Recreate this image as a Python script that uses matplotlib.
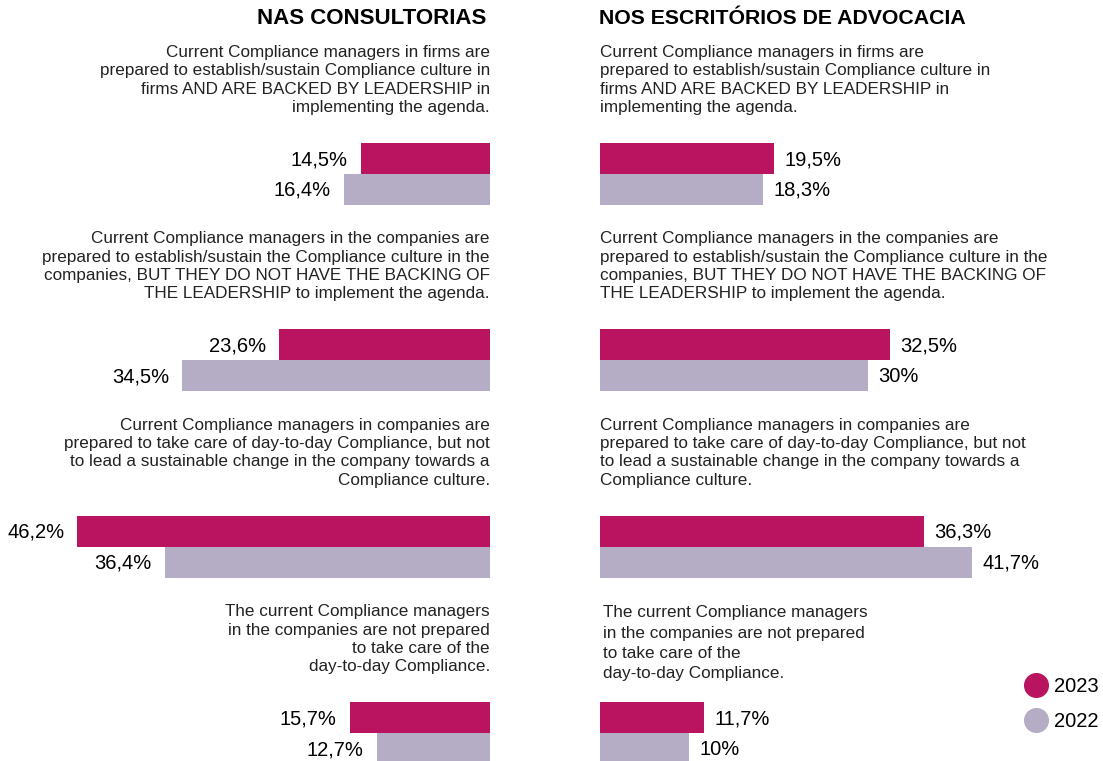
import numpy as np
import matplotlib.pyplot as plt
from matplotlib.lines import Line2D

plt.rcParams['font.family'] = ['Liberation Sans', 'DejaVu Sans']

# data
statements = [
    "Current Compliance managers in firms are\nprepared to establish/sustain Compliance culture in\nfirms AND ARE BACKED BY LEADERSHIP in\nimplementing the agenda.",
    "Current Compliance managers in the companies are\nprepared to establish/sustain the Compliance culture in the\ncompanies, BUT THEY DO NOT HAVE THE BACKING OF\nTHE LEADERSHIP to implement the agenda.",
    "Current Compliance managers in companies are\nprepared to take care of day-to-day Compliance, but not\nto lead a sustainable change in the company towards a\nCompliance culture.",
    "The current Compliance managers\nin the companies are not prepared\nto take care of the\nday-to-day Compliance.",
]
panel_titles = ["NAS CONSULTORIAS", "NOS ESCRITÓRIOS DE ADVOCACIA"]
years = ["2023", "2022"]
consultorias_2023 = [14.5, 23.6, 46.2, 15.7]
consultorias_2022 = [16.4, 34.5, 36.4, 12.7]
advocacia_2023 = [19.5, 32.5, 36.3, 11.7]
advocacia_2022 = [18.3, 30.0, 41.7, 10.0]

MAGENTA = "#BA1461"
LILAC = "#B4ADC5"
TXT = "#222222"

W, H = 1103, 761
px = 8.93          # pixels per percentage point
bar_h = 31
top0, step = 143, 186.4
tops = top0 + step * np.arange(len(statements))

fig = plt.figure(figsize=(W / 100, H / 100), dpi=100)

ax_l = fig.add_axes([0, 0, 490 / W, 1])
ax_r = fig.add_axes([600 / W, 0, 503 / W, 1])
ax_l.set_xlim(490 / px, 0)
ax_r.set_xlim(0, 503 / px)

def fmt(v):
    return ("%g" % v).replace(".", ",") + "%"

for ax, v23, v22, side in [(ax_l, consultorias_2023, consultorias_2022, "left"),
                           (ax_r, advocacia_2023, advocacia_2022, "right")]:
    ax.set_ylim(H, 0)
    ax.axis("off")
    ax.barh(tops, v23, height=bar_h, align="edge", color=MAGENTA)
    ax.barh(tops + bar_h, v22, height=bar_h, align="edge", color=LILAC)
    ha = "right" if side == "left" else "left"
    off = -13 if side == "left" else 10
    for i, t in enumerate(tops):
        for v, yy in [(v23[i], t + bar_h / 2 + 1), (v22[i], t + 1.5 * bar_h + 1)]:
            ax.annotate(fmt(v), (v, yy), xytext=(off, 0), textcoords="offset pixels",
                        ha=ha, va="center", fontsize=14.5, color="black")
        # last block on the right sits a bit looser in the reference
        last_r = side == "right" and i == len(tops) - 1
        ax.annotate(statements[i], (0, t - (59 if last_r else 63)),
                    xytext=(3 if last_r else 0, 0), textcoords="offset pixels",
                    ha=ha, va="center", multialignment=ha,
                    fontsize=12.3, color=TXT, linespacing=1.43 if last_r else 1.28)

fig.text(486 / W, 1 - 18 / H, panel_titles[0], ha="right", va="center",
         fontsize=16, weight="bold", color="black")
fig.text(599 / W, 1 - 18 / H, panel_titles[1], ha="left", va="center",
         fontsize=15.3, weight="bold", color="black")

handles = [Line2D([], [], ls="", marker="o", markersize=17, color=MAGENTA),
           Line2D([], [], ls="", marker="o", markersize=17, color=LILAC)]
fig.legend(handles, years, loc="center", bbox_to_anchor=(1061 / W, 1 - 704 / H),
           frameon=False, fontsize=14.5, handletextpad=0.3, labelspacing=0.78,
           handlelength=1.2)

fig.savefig("out.png", dpi=100)
